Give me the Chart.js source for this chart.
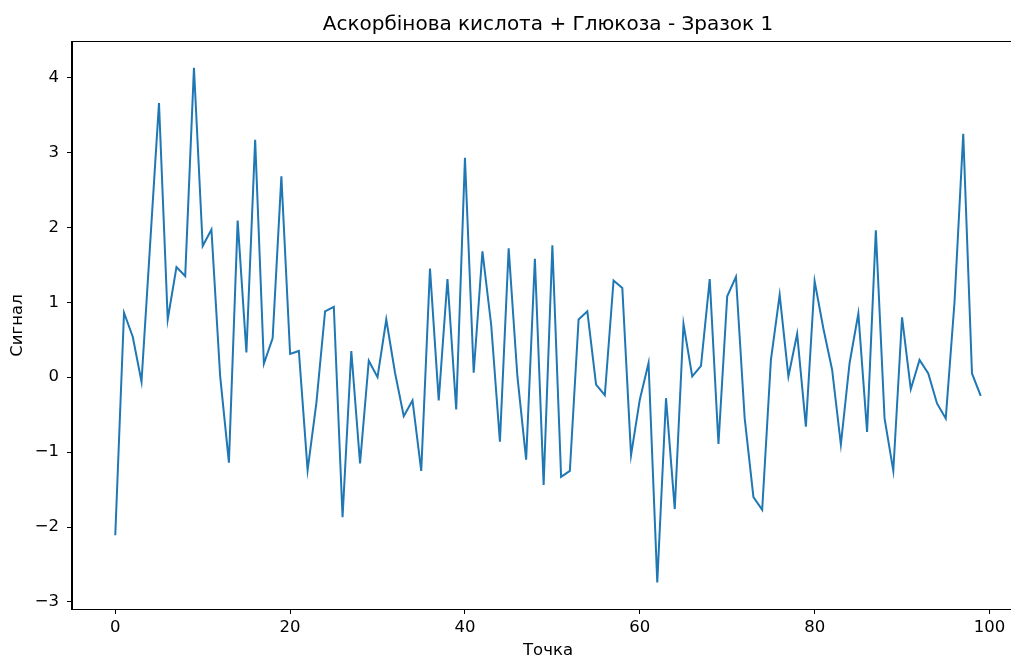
<!DOCTYPE html>
<html lang="uk">
<head>
<meta charset="utf-8">
<title>Аскорбінова кислота + Глюкоза - Зразок 1</title>
<script src="https://cdn.jsdelivr.net/npm/chart.js@4.4.1/dist/chart.umd.min.js"></script>
<style>
  html, body { margin: 0; padding: 0; background: #fff; overflow: hidden; }
  #wrap { width: 1011px; height: 661px; overflow: hidden; }
  canvas { display: block; }
</style>
</head>
<body>
<div id="wrap">
  <canvas id="grafico" width="1040" height="661"></canvas>
</div>
<script>
// сигнал по точках 0..99
let signal = [
  -2.11, 0.86, 0.54, -0.06, 1.80, 3.66, 0.77, 1.47, 1.35, 4.13,
  1.75, 1.97, 0.01, -1.14, 2.09, 0.33, 3.17, 0.18, 0.52, 2.68,
  0.31, 0.35, -1.24, -0.35, 0.88, 0.94, -1.87, 0.35, -1.15, 0.22,
  0.00, 0.77, 0.06, -0.52, -0.31, -1.25, 1.45, -0.31, 1.31, -0.43,
  2.93, 0.06, 1.68, 0.70, -0.86, 1.72, 0.01, -1.10, 1.58, -1.44,
  1.76, -1.33, -1.25, 0.77, 0.88, -0.10, -0.24, 1.29, 1.19, -1.04,
  -0.30, 0.19, -2.74, -0.28, -1.76, 0.71, 0.01, 0.15, 1.31, -0.89,
  1.08, 1.34, -0.55, -1.60, -1.77, 0.23, 1.10, 0.01, 0.58, -0.66,
  1.28, 0.65, 0.10, -0.90, 0.19, 0.85, -0.73, 1.96, -0.55, -1.25,
  0.80, -0.16, 0.23, 0.05, -0.35, -0.55, 1.00, 3.25, 0.05, -0.25
];
let points = signal.map((v, i) => i);
let xTicks = [0, 20, 40, 60, 80, 100];
let yTicks = [-3, -2, -1, 0, 1, 2, 3, 4];
let titulo = 'Аскорбінова кислота + Глюкоза - Зразок 1';

const fuente = "'DejaVu Sans', sans-serif";
Chart.defaults.font.family = fuente;
Chart.defaults.color = '#000';

// рамка навколо області графіка + заголовок по центру осей
const marco = {
  id: 'marco',
  afterDraw(chart) {
    const a = chart.chartArea;
    const ctx = chart.ctx;
    ctx.save();
    ctx.strokeStyle = '#000';
    ctx.lineWidth = 1;
    ctx.strokeRect(Math.round(a.left) - 0.5, Math.round(a.top) - 0.5,
      Math.round(a.right - a.left) + 1, Math.round(a.bottom - a.top) + 1);

    ctx.fillStyle = '#000';
    ctx.font = '20px ' + fuente;
    ctx.textAlign = 'center';
    ctx.textBaseline = 'middle';
    ctx.fillText(titulo, (a.left + a.right) / 2, 25);
    ctx.restore();
  }
};

const menos = v => (v < 0 ? '\u2212' + Math.abs(v) : String(v));

const ctx = document.getElementById('grafico').getContext('2d');
new Chart(ctx, {
  type: 'line',
  data: {
    datasets: [{
      data: points.map((x, i) => ({ x: x, y: signal[i] })),
      borderColor: '#1f77b4',
      borderWidth: 2,
      pointRadius: 0,
      tension: 0,
      fill: false
    }]
  },
  options: {
    responsive: false,
    animation: false,
    layout: { padding: { left: 0, right: 16, top: 42, bottom: 0 } },
    plugins: {
      legend: { display: false },
      tooltip: { enabled: false },
      title: { display: false }
    },
    scales: {
      x: {
        type: 'linear',
        min: -4.95,
        max: 103.95,
        afterFit: s => { s.height = 52; },
        afterBuildTicks: s => { s.ticks = xTicks.map(v => ({ value: v })); },
        grid: { drawOnChartArea: false, drawTicks: true, tickLength: 5, color: '#000' },
        border: { display: true, color: '#000', width: 1 },
        ticks: { font: { size: 16.5 }, padding: 4, maxRotation: 0, callback: v => menos(v) },
        title: { display: true, text: 'Точка', font: { size: 16.5 }, padding: { top: 0, bottom: 0 } }
      },
      y: {
        type: 'linear',
        min: -3.094,
        max: 4.474,
        afterFit: s => { s.width = 72; },
        afterBuildTicks: s => { s.ticks = yTicks.map(v => ({ value: v })); },
        grid: { drawOnChartArea: false, drawTicks: true, tickLength: 5, color: '#000' },
        border: { display: true, color: '#000', width: 1 },
        ticks: { font: { size: 16.5 }, padding: 8, callback: v => menos(v) },
        title: { display: true, text: 'Сигнал', font: { size: 16.5 }, padding: { top: 8, bottom: 0 } }
      }
    }
  },
  plugins: [marco]
});
</script>
</body>
</html>
